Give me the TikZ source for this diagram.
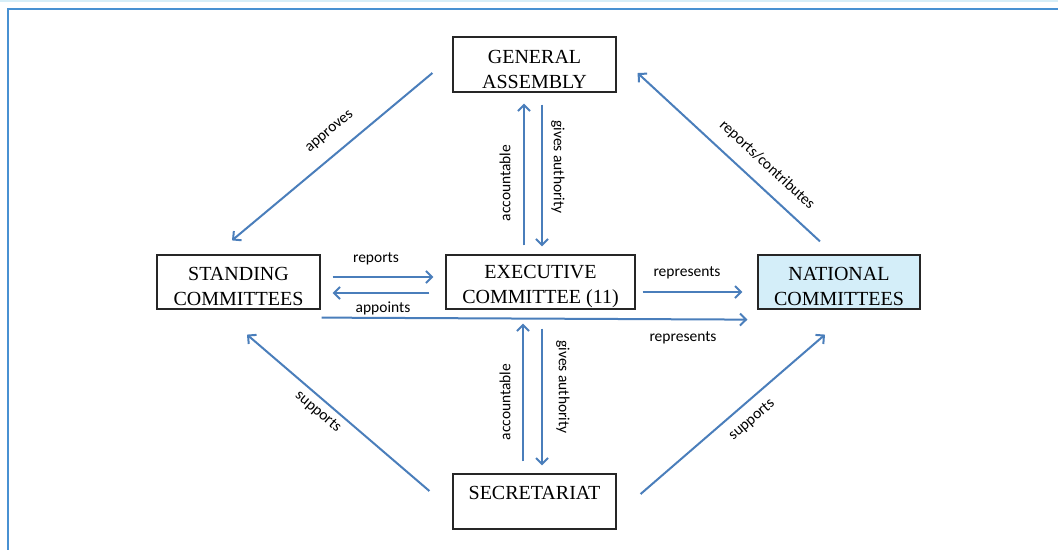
\documentclass[tikz,border=0pt]{standalone}
\usepackage{fontspec}
\setmainfont{Liberation Serif}
\newfontfamily\labfont{Carlito}
\usetikzlibrary{arrows.meta,calc}
\definecolor{arrblue}{RGB}{74,126,187}
\definecolor{framblue}{RGB}{72,145,210}
\definecolor{toplight}{RGB}{214,238,248}
\definecolor{ncfill}{RGB}{212,238,249}
\tikzset{
  box/.style={draw=black!85, line width=1.2pt, rectangle, inner sep=0pt},
  boxtext/.style={font=\fontsize{20}{25}\selectfont, align=center, text=black},
  arr/.style={draw=arrblue, line width=2pt, -{Straight Barb[length=6pt,width=12pt,line width=2pt]}},
  lab/.style={font=\labfont\fontsize{15.5}{18}\selectfont, text=black, inner sep=0pt}
}
\begin{document}
\begin{tikzpicture}[x=1pt,y=-1pt]
\useasboundingbox (0,0) rectangle (1058,550);
\fill[white] (0,0) rectangle (1058,550);
% frame
\draw[toplight, line width=2pt] (0,0.8) -- (1058,0.8);
\draw[framblue, line width=2.4pt] (1058,9) -- (8,9) -- (8,550);

% boxes
\node[box, minimum width=163pt, minimum height=55pt,
  label={[boxtext, yshift=-4.5pt]center:{GENERAL\\ASSEMBLY}}] (ga) at (534.5,64.5) {};
\node[box, minimum width=189pt, minimum height=54pt,
  label={[boxtext, yshift=-4.5pt]center:{EXECUTIVE\\COMMITTEE (11)}}] (ec) at (540.5,282) {};
\node[box, minimum width=163pt, minimum height=54pt,
  label={[boxtext, yshift=-4.5pt]center:{STANDING\\COMMITTEES}}] (sc) at (238.5,282) {};
\node[box, fill=ncfill, minimum width=162pt, minimum height=54pt,
  label={[boxtext, yshift=-4.5pt]center:{NATIONAL\\COMMITTEES}}] (nc) at (839,282) {};
\node[box, minimum width=163pt, minimum height=55pt,
  label={[boxtext, yshift=9pt]center:{SECRETARIAT}}] (sec) at (534.5,501.5) {};

% vertical arrows GA-EC
\draw[arr, shorten <=9pt, shorten >=11pt] ([xshift=-16.5pt]ec.north) -- ([xshift=-10.5pt]ga.south);
\draw[arr, shorten <=12pt, shorten >=8pt] ([xshift=7.5pt]ga.south) -- ([xshift=1.5pt]ec.north);
% vertical arrows EC-SEC
\draw[arr, shorten <=12pt, shorten >=14pt] ([xshift=-11.5pt]sec.north) -- ([xshift=-17.5pt]ec.south);
\draw[arr, shorten <=19pt, shorten >=8pt] ([xshift=1.5pt]ec.south) -- ([xshift=7.5pt]sec.north);
% horizontal arrows
\draw[arr, shorten <=12pt, shorten >=12pt] ([yshift=5pt]sc.east) -- ([yshift=5pt]ec.west);
\draw[arr, shorten <=16pt, shorten >=12pt] ([yshift=-11pt]ec.west) -- ([yshift=-11pt]sc.east);
\draw[arr, shorten <=7pt, shorten >=15pt] ([yshift=-10pt]ec.east) -- ([yshift=-10pt]nc.west);
\draw[arr] ($(sc.south east)+(1,8)$) -- ($(nc.south west)+(-10,10)$);
% diagonal arrows
\draw[arr] ($(ga.west)+(-20,8.5)$) -- ($(sc.north)+(-6.5,-14)$);
\draw[arr] ($(nc.north)+(-19,-13)$) -- ($(ga.east)+(21,8.5)$);
\draw[arr] ($(sec.west)+(-23,-10.5)$) -- ($(sc.south)+(8.5,25)$);
\draw[arr] ($(sec.east)+(24,-7.5)$) -- ($(nc.south)+(-14,25)$);

% labels
\node[lab, rotate=90] (l1) at (505,183) {accountable};
\node[lab, rotate=-90] (l2) at (558,167) {gives authority};
\node[lab, rotate=90] (l3) at (505,402) {accountable};
\node[lab, rotate=-90] (l4) at (563,387) {gives authority};
\node[lab] (l5) at (376,259) {reports};
\node[lab] (l6) at (383,308) {appoints};
\node[lab] (l7) at (687,273) {represents};
\node[lab] (l8) at (683,338) {represents};
\node[lab, rotate=40] (l9) at (330,132) {approves};
\node[lab, rotate=-42.7] (l10) at (767,165) {reports/contributes};
\node[lab, rotate=-40.6] (l11) at (318,412) {supports};
\node[lab, rotate=40.9] (l12) at (752,420) {supports};
\end{tikzpicture}
\end{document}
